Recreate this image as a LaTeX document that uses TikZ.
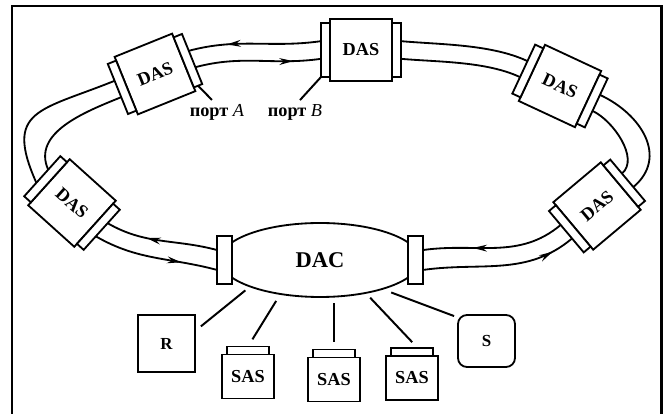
\documentclass[tikz,border=0pt]{standalone}
\usepackage{fontspec}
\setmainfont{Liberation Serif}
\usetikzlibrary{arrows.meta, positioning, calc, shapes.geometric, decorations.markings}
\tikzstyle{das} = [draw, fill=white, line width=1.3pt, outer sep=0pt, minimum width=15.5mm, minimum height=15.5mm, inner sep=0pt, font=\fontsize{13}{13}\selectfont\bfseries]
\tikzstyle{dasport} = [draw, fill=white, line width=1.3pt, outer sep=0pt, minimum width=2.25mm, minimum height=13.5mm, inner sep=0pt]
\tikzstyle{dacport} = [draw, fill=white, line width=1.3pt, outer sep=0pt, minimum width=3.75mm, minimum height=12mm, inner sep=0pt]
\tikzstyle{sas} = [draw, line width=1.3pt, outer sep=0pt, minimum width=13mm, minimum height=11mm, inner sep=0pt, font=\fontsize{13}{13}\selectfont\bfseries]
\tikzstyle{sastab} = [draw, line width=1.3pt, outer sep=0pt, minimum width=10.5mm, minimum height=2mm, inner sep=0pt]
\tikzstyle{track} = [line width=1.3pt]
\tikzstyle{link} = [line width=1.4pt]
\tikzset{
  >={Stealth[length=3.5mm, width=1.7mm]},
  fwd/.style={postaction={decorate, decoration={markings, mark=at position #1 with {\arrow{>}}}}},
  bwd/.style={postaction={decorate, decoration={markings, mark=at position #1 with {\arrowreversed{>}}}}}
}

\begin{document}
\begin{tikzpicture}[x=0.25mm, y=0.25mm]
    \useasboundingbox (0,0) rectangle (667,414);
    % frame, open at the bottom
    \draw[line width=2pt] (12,0) -- (12,408) -- (661.5,408) -- (661.5,0);

    % DAS stations on the ring
    \node[das] (tp) at (361,364) {DAS};
    \node[das, rotate=22] (ul) at (155,340) {DAS};
    \node[das, rotate=-42] (lf) at (72,211) {DAS};
    \node[das, rotate=-25] (ur) at (560,328) {DAS};
    \node[das, rotate=40] (lr) at (597,208) {DAS};

    % ports on both sides of every station
    \foreach \s/\a in {tp/0, ul/22, lf/-42, ur/-25, lr/40} {
        \node[dasport, rotate=\a, anchor=east] (\s-w) at (\s.west) {};
        \node[dasport, rotate=\a, anchor=west] (\s-e) at (\s.east) {};
    }

    % concentrator
    \node[draw, ellipse, line width=1.3pt, minimum width=50mm, minimum height=18.5mm, inner sep=0pt,
        font=\fontsize{16}{16}\selectfont\bfseries] (dac) at (320,154) {DAC};
    \node[dacport, anchor=west] (dac-w) at ([xshift=-0.5mm]dac.west) {};
    \node[dacport, anchor=east] (dac-e) at ([xshift=0.5mm]dac.east) {};

    % outer ring
    \draw[track, fwd=0.85] (dac-e.-53) to[out=8, in=220] (lr-w.243);
    \draw[track] (lr-e.-63) to[out=40, in=-25, looseness=1.2] (ur-e.63);
    \draw[track] (ur-w.117) to[out=155, in=-5, looseness=0.8] (tp-e.63);
    \draw[track, fwd=0.71] (tp-w.117) to[out=188, in=15] (ul-e.63);
    \draw[track] (ul-w.117) to[out=202, in=114, looseness=1.6] (lf-w.243);
    \draw[track, fwd=0.71] (lf-e.-63) to[out=-30, in=165] (dac-w.233);

    % inner ring
    \draw[track, bwd=0.35] (dac-e.53) to[out=8, in=220] (lr-w.117);
    \draw[track] (lr-e.63) to[out=40, in=-25, looseness=0.85] (ur-e.-63);
    \draw[track] (ur-w.243) to[out=155, in=-5, looseness=0.8] (tp-e.-63);
    \draw[track, bwd=0.22] (tp-w.243) to[out=188, in=15] (ul-e.-63);
    \draw[track] (ul-w.243) to[out=202, in=114, looseness=1.0] (lf-w.117);
    \draw[track, bwd=0.37] (lf-e.63) to[out=-30, in=165] (dac-w.127);

    % port labels
    \node[font=\fontsize{13}{13}\selectfont, anchor=base] (pa) at (217,297) {\textbf{порт} \textit{A}};
    \node[font=\fontsize{13}{13}\selectfont, anchor=base] (pb) at (295,297) {\textbf{порт} \textit{B}};
    \draw[link] ([xshift=-1.25mm]pa.north) -- (ul-e.south);
    \draw[link] ([xshift=1.25mm]pb.north) -- (tp-w.south west);

    % devices under the concentrator
    \node[draw, line width=1.3pt, minimum size=14.25mm, inner sep=0pt,
        font=\fontsize{12}{12}\selectfont\bfseries] (r) at (166.5,70.5) {R};
    \node[sas] (s1) at (248,37.5) {SAS};
    \node[sas] (s2) at (334,34.5) {SAS};
    \node[sas] (s3) at (412,36) {SAS};
    \foreach \n in {s1, s2, s3}
        \node[sastab, anchor=south] (\n t) at (\n.north) {};
    \node[draw, line width=1.3pt, rounded corners=2.25mm, minimum width=14.25mm, minimum height=13mm,
        inner sep=0pt, font=\fontsize{12}{12}\selectfont\bfseries] (s) at (486.5,73) {S};

    % links
    \draw[link, shorten <=1.3mm, shorten >=1.6mm] (dac.201) -- (r.24);
    \draw[link, shorten <=1.8mm, shorten >=2.1mm] (dac.221) -- (s1t.north);
    \draw[link, shorten <=1.3mm, shorten >=1.8mm] (s2t.north |- dac.south) -- (s2t.north);
    \draw[link, shorten <=1.4mm, shorten >=2mm] (dac.324) -- (s3t.35);
    \draw[link, shorten <=2.1mm, shorten >=0.8mm] (dac.335) -- (s.141);
\end{tikzpicture}
\end{document}
